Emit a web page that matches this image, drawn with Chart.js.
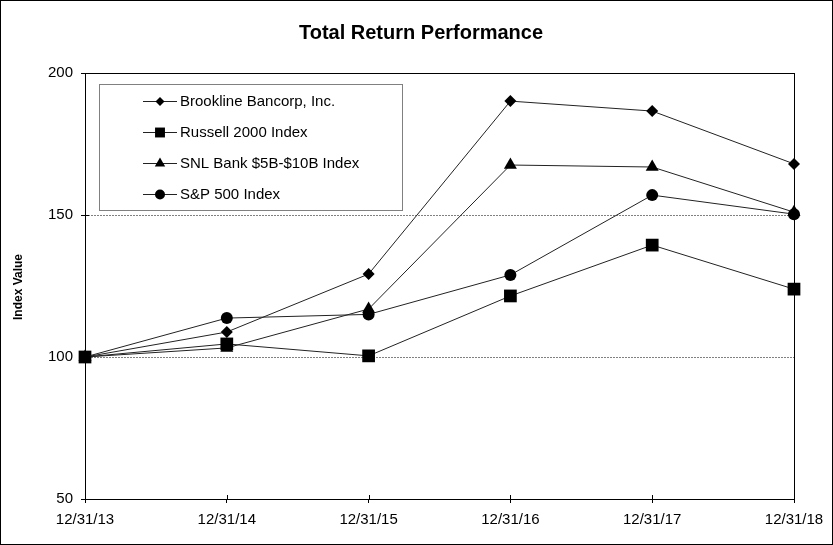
<!DOCTYPE html>
<html>
<head>
<meta charset="utf-8">
<script src="https://cdn.jsdelivr.net/npm/chart.js@4"></script>
<style>
  html, body { margin: 0; padding: 0; background: #fff; }
  canvas { display: block; }
</style>
</head>
<body>
<canvas id="chart" width="833" height="545"></canvas>
<script>
const dates = ["12/31/13", "12/31/14", "12/31/15", "12/31/16", "12/31/17", "12/31/18"];
const brookline = [100, 108.8, 129.2, 190.1, 186.6, 168.0];
const russell = [100, 104.6, 100.4, 121.5, 139.4, 123.9];
const snlBank = [100, 103.2, 116.9, 167.6, 166.9, 151.0];
const sp500 = [100, 113.7, 115.0, 128.9, 157.0, 150.3];
const yTicks = [50, 100, 150, 200];

const FONT = "Arial, 'Liberation Sans', sans-serif";

function series(label, data, style, radius, legendRadius) {
  return {
    label: label,
    data: data,
    borderColor: "#222",
    borderWidth: 1,
    backgroundColor: "#000",
    pointBackgroundColor: "#000",
    pointBorderColor: "#000",
    pointBorderWidth: 0,
    pointStyle: style,
    pointRadius: radius,
    pointHoverRadius: radius,
    legendRadius: legendRadius,
    tension: 0
  };
}

// title, y title, plot frame, crossing ticks, boxed legend and outer border
const decorations = {
  id: "decorations",
  beforeDatasetsDraw(chart) {
    const ctx = chart.ctx;
    const a = chart.chartArea;
    ctx.save();
    ctx.strokeStyle = "#808080";
    ctx.lineWidth = 1;
    ctx.setLineDash([2, 1]);
    [100, 150].forEach(v => {
      const y = Math.round(chart.scales.y.getPixelForValue(v)) + 0.5;
      ctx.beginPath();
      ctx.moveTo(a.left, y);
      ctx.lineTo(a.right, y);
      ctx.stroke();
    });
    ctx.restore();
  },
  afterDraw(chart) {
    const ctx = chart.ctx;
    const a = chart.chartArea;
    ctx.save();

    // plot frame
    ctx.strokeStyle = "#000";
    ctx.lineWidth = 1;
    ctx.strokeRect(Math.round(a.left) + 0.5, Math.round(a.top) + 0.5,
      Math.round(a.right - a.left), Math.round(a.bottom - a.top));

    // inner half of the tick marks
    ctx.beginPath();
    yTicks.forEach(v => {
      const y = Math.round(chart.scales.y.getPixelForValue(v)) + 0.5;
      ctx.moveTo(a.left, y);
      ctx.lineTo(a.left + 4, y);
    });
    dates.forEach((d, i) => {
      const x = Math.round(chart.scales.x.getPixelForValue(i)) + 0.5;
      ctx.moveTo(x, a.bottom);
      ctx.lineTo(x, a.bottom - 4);
    });
    ctx.stroke();

    // title
    ctx.fillStyle = "#000";
    ctx.font = "bold 20px " + FONT;
    ctx.textAlign = "center";
    ctx.textBaseline = "middle";
    ctx.fillText("Total Return Performance", 421, 33);

    // y axis title
    ctx.save();
    ctx.translate(19, 287);
    ctx.rotate(-Math.PI / 2);
    ctx.font = "bold 12px " + FONT;
    ctx.fillText("Index Value", 0, 0);
    ctx.restore();

    // legend box
    ctx.strokeStyle = "#808080";
    ctx.strokeRect(99.5, 84.5, 303, 126);
    ctx.font = "15px " + FONT;
    ctx.textAlign = "left";
    const rows = [101, 132, 163, 194];
    chart.data.datasets.forEach((ds, i) => {
      const y = rows[i];
      ctx.strokeStyle = "#222";
      ctx.beginPath();
      ctx.moveTo(143, y + 0.5);
      ctx.lineTo(177, y + 0.5);
      ctx.stroke();
      ctx.fillStyle = "#000";
      Chart.helpers.drawPoint(ctx, {
        pointStyle: ds.pointStyle,
        radius: ds.legendRadius,
        borderWidth: 0,
        rotation: 0
      }, 160, y + 0.5);
      ctx.fillText(ds.label, 180, y + 1);
    });

    // outer border
    ctx.strokeStyle = "#000";
    ctx.strokeRect(0.5, 0.5, 832, 544);
    ctx.restore();
  }
};

new Chart(document.getElementById("chart"), {
  type: "line",
  data: {
    labels: dates,
    datasets: [
      series("Brookline Bancorp, Inc.", brookline, "rectRot", 6, 4.5),
      series("Russell 2000 Index", russell, "rect", 9, 7),
      series("SNL Bank $5B-$10B Index", snlBank, "triangle", 7.5, 6),
      series("S&P 500 Index", sp500, "circle", 6, 5)
    ]
  },
  options: {
    responsive: false,
    animation: false,
    devicePixelRatio: 1,
    layout: { padding: { top: 73, right: 39, left: 0, bottom: 0 } },
    plugins: {
      legend: { display: false },
      title: { display: false },
      tooltip: { enabled: false }
    },
    scales: {
      x: {
        type: "category",
        offset: false,
        grid: {
          display: true,
          drawOnChartArea: false,
          drawTicks: true,
          tickLength: 4,
          color: "#000"
        },
        border: { color: "#000" },
        ticks: {
          color: "#000",
          font: { family: FONT, size: 15 },
          padding: 8,
          maxRotation: 0,
          autoSkip: false
        },
        afterFit(scale) { scale.height = 46; }
      },
      y: {
        min: 50,
        max: 200,
        afterBuildTicks(scale) { scale.ticks = yTicks.map(v => ({ value: v })); },
        grid: {
          display: true,
          drawOnChartArea: false,
          drawTicks: true,
          tickLength: 4,
          color: "#000"
        },
        border: { color: "#000" },
        ticks: {
          color: "#000",
          font: { family: FONT, size: 15 },
          padding: 8
        },
        afterFit(scale) { scale.width = 85; }
      }
    }
  },
  plugins: [decorations]
});
</script>
</body>
</html>
